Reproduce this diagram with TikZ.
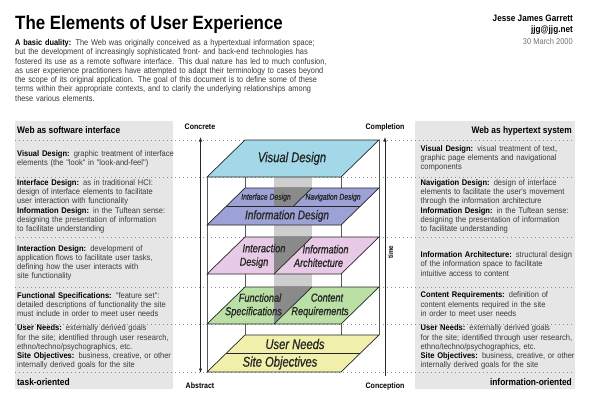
\documentclass[tikz,border=0pt]{standalone}
\usepackage{fontspec}
\setmainfont[FakeStretch=0.88]{Liberation Sans}
\newfontfamily\blurbfont[FakeStretch=0.92]{Liberation Sans}
\newfontfamily\planefont[FakeStretch=0.8, FakeBold=0.8]{Liberation Sans}
\usetikzlibrary{arrows.meta}
\tikzset{>=latex}
\tikzset{axis tip/.tip={Latex[length=4.5pt,width=3.2pt]}}
\definecolor{panelgray}{RGB}{230,230,230}
\definecolor{visualblue}{RGB}{162,216,232}
\definecolor{infoblue}{RGB}{156,161,214}
\definecolor{interpink}{RGB}{232,202,230}
\definecolor{specgreen}{RGB}{186,224,166}
\definecolor{needyellow}{RGB}{240,240,172}
\definecolor{pillargray}{RGB}{206,206,206}
\definecolor{shadowgray}{RGB}{138,138,138}
\definecolor{bodytext}{RGB}{58,58,58}
\tikzstyle{heading}=[anchor=base west, inner sep=0pt, font=\bfseries\fontsize{19.2}{20}\selectfont]
\tikzstyle{intro}=[anchor=base west, inner sep=0pt, text width=360pt, align=left, text=bodytext, font=\fontsize{8.4}{9.25}\selectfont]
\tikzstyle{byline}=[anchor=base east, inner sep=0pt, font=\fontsize{9.3}{10}\selectfont]
\tikzstyle{panel}=[fill=panelgray]
\tikzstyle{sep}=[black!45, line width=0.9pt, dash pattern=on 0.9pt off 3.1pt]
\tikzstyle{panelhead}=[inner sep=0pt, font=\bfseries\fontsize{9.5}{10}\selectfont]
\tikzstyle{blurb}=[anchor=base west, inner sep=0pt, text width=200pt, align=left, text=bodytext, font=\blurbfont\fontsize{8.2}{9.2}\selectfont]
\tikzstyle{edge}=[black!65, line width=0.5pt]
\tikzstyle{plane}=[draw=black!85, line width=0.7pt]
\tikzstyle{layername}=[inner sep=0pt, align=center, text=black!85, font=\planefont\itshape\fontsize{11.5}{13.5}\selectfont]
\tikzstyle{axislabel}=[inner sep=0pt, font=\bfseries\fontsize{8}{8}\selectfont]
\tikzstyle{axis}=[black!85, line width=0.6pt]

% one plane of the box: back y, front y, fill
\newcommand{\drawlayer}[3]{\filldraw[plane, fill=#3] (207,#2) -- (341,#2) -- (379,#1) -- (245,#1) -- cycle;}

\begin{document}
\begin{tikzpicture}[x=1pt, y=-1pt]
\useasboundingbox[fill=white] (0,0) rectangle (590,400);

% Header
\node[heading] (title) at (15,29.5) {The Elements of User Experience};
\node[intro] (duality) at (15,45.5) {\textbf{\color{black}A basic duality:} The Web was originally conceived as a hypertextual information space;\\
but the development of increasingly sophisticated front- and back-end technologies has\\
fostered its use as a remote software interface. This dual nature has led to much confusion,\\
as user experience practitioners have attempted to adapt their terminology to cases beyond\\
the scope of its original application. The goal of this document is to define some of these\\
terms within their appropriate contexts, and to clarify the underlying relationships among\\
these various elements.};
\node[byline] (author) at (573,21) {\textbf{Jesse James Garrett}};
\node[byline] (email) at (573,32.5) {\textbf{jjg@jjg.net}};
\node[byline, text=black!55, font=\fontsize{8.5}{9}\selectfont] (date) at (573,44) {30 March 2000};

% Side panels
\fill[panel] (15,121) rectangle (173,389);
\fill[panel] (415,121) rectangle (575,389);
\foreach \y in {140,177,237,287,324,372}
  \draw[sep] (15,\y) -- (575,\y);

% Web as software interface
\node[panelhead, anchor=base west] (swhead) at (17,133.5) {Web as software interface};
\node[blurb] (sw_visual) at (17,156) {\textbf{\color{black}Visual Design:} graphic treatment of interface\\
elements (the "look" in "look-and-feel")};
\node[blurb] (sw_interface) at (17,185.5) {\textbf{\color{black}Interface Design:} as in traditional HCI:\\
design of interface elements to facilitate\\
user interaction with functionality\\
\textbf{\color{black}Information Design:} in the Tuftean sense:\\
designing the presentation of information\\
to facilitate understanding};
\node[blurb] (sw_interaction) at (17,251.3) {\textbf{\color{black}Interaction Design:} development of\\
application flows to facilitate user tasks,\\
defining how the user interacts with\\
site functionality};
\node[blurb] (sw_specs) at (17,298.5) {\textbf{\color{black}Functional Specifications:} "feature set":\\
detailed descriptions of functionality the site\\
must include in order to meet user needs};
\node[blurb] (sw_needs) at (17,330.8) {\textbf{\color{black}User Needs:} externally derived goals\\
for the site; identified through user research,\\
ethno/techno/psychographics, etc.\\
\textbf{\color{black}Site Objectives:} business, creative, or other\\
internally derived goals for the site};
\node[panelhead, anchor=base west] (swfoot) at (17,385) {task-oriented};

% Web as hypertext system
\node[panelhead, anchor=base east] (hthead) at (572,133.5) {Web as hypertext system};
\node[blurb] (ht_visual) at (420.5,151) {\textbf{\color{black}Visual Design:} visual treatment of text,\\
graphic page elements and navigational\\
components};
\node[blurb] (ht_navigation) at (420.5,185.5) {\textbf{\color{black}Navigation Design:} design of interface\\
elements to facilitate the user's movement\\
through the information architecture\\
\textbf{\color{black}Information Design:} in the Tuftean sense:\\
designing the presentation of information\\
to facilitate understanding};
\node[blurb] (ht_architecture) at (420.5,257.7) {\textbf{\color{black}Information Architecture:} structural design\\
of the information space to facilitate\\
intuitive access to content};
\node[blurb] (ht_content) at (420.5,297.9) {\textbf{\color{black}Content Requirements:} definition of\\
content elements required in the site\\
in order to meet user needs};
\node[blurb] (ht_needs) at (420.5,330.8) {\textbf{\color{black}User Needs:} externally derived goals\\
for the site; identified through user research,\\
ethno/techno/psychographics, etc.\\
\textbf{\color{black}Site Objectives:} business, creative, or other\\
internally derived goals for the site};
\node[panelhead, anchor=base east] (htfoot) at (572,385) {information-oriented};

% Box edges
\draw[edge] (207,177) -- (207,372);
\draw[edge] (341,177) -- (341,372);
\draw[edge] (245,140) -- (245,335);
\draw[edge] (379,140) -- (379,335);

% Shadow pillar
\fill[pillargray] (274,177) rectangle (312,287);

% Planes
\drawlayer{140}{177}{visualblue}
\drawlayer{188}{225}{infoblue}
\drawlayer{237}{274}{interpink}
\drawlayer{287}{324}{specgreen}
\drawlayer{335}{372}{needyellow}

% Shadow on the split planes
\fill[shadowgray] (274,188) -- (312,188) -- (293,206.5) -- (274,206.5) -- cycle;
\fill[shadowgray] (274,237) -- (312,237) -- (274,274) -- cycle;
\fill[shadowgray] (274,287) -- (312,287) -- (274,324) -- cycle;

% Plane dividers
\begin{scope}[plane]
  \draw (226,206.5) -- (360,206.5);
  \draw (293,206.5) -- (312,188);
  \draw (274,274) -- (312,237);
  \draw (274,324) -- (312,287);
  \draw (226,353.5) -- (360,353.5);
\end{scope}

% Plane names
\node[layername, font=\planefont\itshape\fontsize{14}{14}\selectfont] (visual) at (292,158.5) {Visual Design};
\node[layername, font=\planefont\itshape\fontsize{8.5}{9}\selectfont] (interface) at (266,197.5) {Interface Design};
\node[layername, font=\planefont\itshape\fontsize{8.5}{9}\selectfont] (navigation) at (333,197.5) {Navigation Design};
\node[layername, font=\planefont\itshape\fontsize{12.5}{13}\selectfont] (infodesign) at (287,216) {Information Design};
\node[layername] (interaction) at (259,256) {\hspace*{10pt}Interaction\\Design\hspace*{10pt}};
\node[layername] (architecture) at (322,256) {\hspace*{7pt}Information\\Architecture\hspace*{7pt}};
\node[layername] (specs) at (253.5,305.5) {\hspace*{13pt}Functional\\Specifications\hspace*{0pt}};
\node[layername] (content) at (320,305.5) {\hspace*{14pt}Content\\Requirements};
\node[layername, font=\planefont\itshape\fontsize{14}{14}\selectfont] (needs) at (295,344) {User Needs};
\node[layername, font=\planefont\itshape\fontsize{14}{14}\selectfont] (objectives) at (280,363) {Site Objectives};

% Axes
\node[axislabel] (concrete) at (200,127) {Concrete};
\node[axislabel] (abstract) at (200,386) {Abstract};
\node[axislabel] (completion) at (385,127) {Completion};
\node[axislabel] (conception) at (385,386) {Conception};
\node[axislabel, rotate=90, font=\bfseries\fontsize{7}{7}\selectfont] (time) at (390.5,252) {time};
\coordinate (concrete-tip) at (200.5,137);
\coordinate (abstract-tip) at (200.5,373);
\coordinate (completion-tip) at (385,137);
\coordinate (conception-end) at (385,376);
\draw[axis, axis tip-axis tip] (concrete-tip) -- (abstract-tip);
\draw[axis, -axis tip] (conception-end) -- (completion-tip);

\end{tikzpicture}
\end{document}
